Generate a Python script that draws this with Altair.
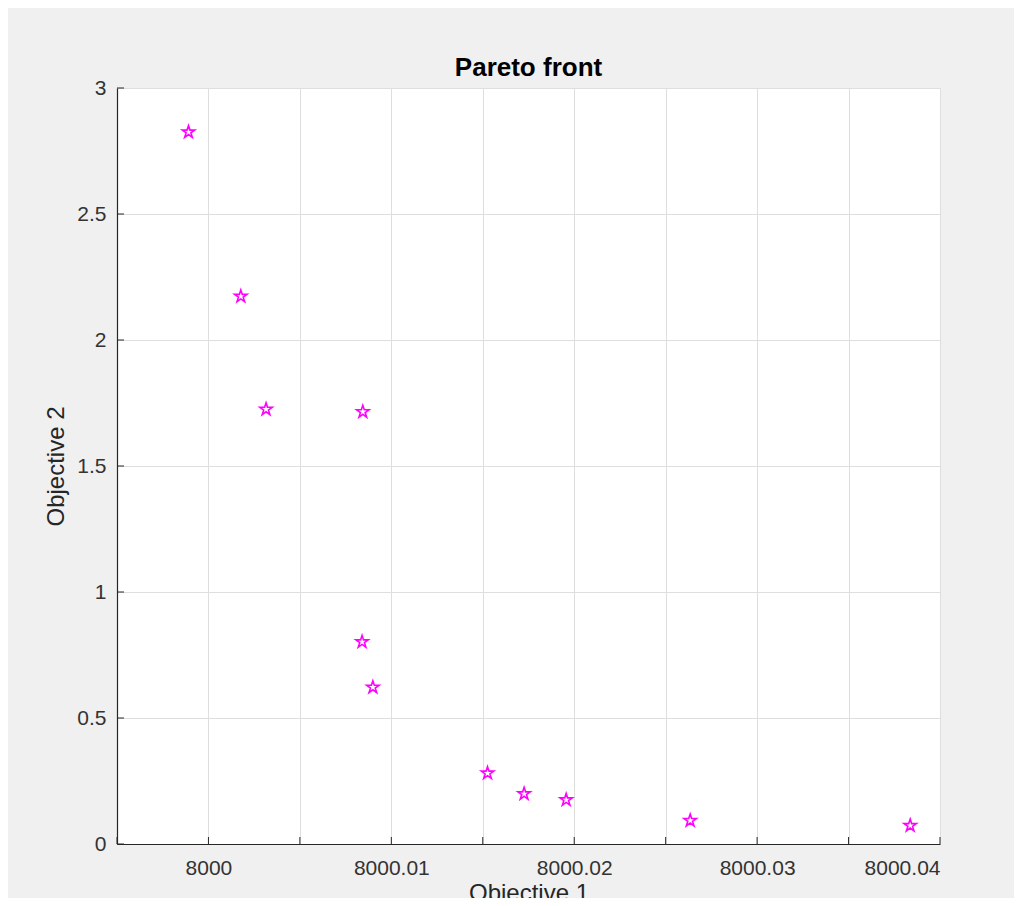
import altair as alt
import pandas as pd

# Pareto front points
obj1 = [7999.99891, 8000.00177, 8000.00315, 8000.00844, 8000.00840, 8000.00899,
        8000.01526, 8000.01726, 8000.01956, 8000.02634, 8000.03837]
obj2 = [2.825, 2.173, 1.725, 1.715, 0.802, 0.622, 0.281, 0.199, 0.175, 0.093, 0.073]

x_ticks = [7999.995, 8000.0, 8000.005, 8000.01, 8000.015, 8000.02,
           8000.025, 8000.03, 8000.035, 8000.04]
y_ticks = [0, 0.5, 1, 1.5, 2, 2.5, 3]

pts = pd.DataFrame({"x": obj1, "y": obj2})
xt = pd.DataFrame({"x": x_ticks})
yt = pd.DataFrame({"y": y_ticks})

W, H = 823, 756
AX = "#262626"
FONT = "Liberation Sans"
STAR = ("M0,-1L0.2245,-0.309L0.951,-0.309L0.363,0.118L0.588,0.809L0,0.382"
        "L-0.588,0.809L-0.363,0.118L-0.951,-0.309L-0.2245,-0.309Z")

xscale = alt.Scale(domain=[7999.995, 8000.04], nice=False, zero=False)
yscale = alt.Scale(domain=[0, 3], nice=False, zero=True)

xaxis = alt.Axis(
    values=x_ticks,
    labelExpr="abs(datum.value*100 - round(datum.value*100)) < 1e-6 ? format(datum.value, '.2~f') : ''",
    title="Objective 1",
    ticks=False, tickSize=0,
    labelPadding=13, titlePadding=3,
)
yaxis = alt.Axis(
    values=y_ticks,
    format="~g",
    title="Objective 2",
    ticks=False, tickSize=0,
    labelPadding=11, titlePadding=8,
)

points = alt.Chart(pts).mark_point(
    shape=STAR, filled=False, stroke="#ff00ff", strokeWidth=1.6, size=170, opacity=1
).encode(
    x=alt.X("x:Q", scale=xscale, axis=xaxis),
    y=alt.Y("y:Q", scale=yscale, axis=yaxis),
)

xtick_rules = alt.Chart(xt).mark_rule(color=AX, strokeWidth=1).encode(
    x=alt.X("x:Q", scale=xscale, axis=xaxis),
    y=alt.value(H),
    y2=alt.value(H - 7),
)

ytick_rules = alt.Chart(yt).mark_rule(color=AX, strokeWidth=1).encode(
    y=alt.Y("y:Q", scale=yscale, axis=yaxis),
    x=alt.value(0),
    x2=alt.value(7),
)

chart = alt.layer(xtick_rules, ytick_rules, points).properties(
    width=W,
    height=H,
    title=alt.TitleParams("Pareto front", font=FONT, fontSize=26, fontWeight="bold",
                          color="#000000", offset=0, dy=4, anchor="middle"),
    background="#f0f0f0",
    autosize=alt.AutoSizeParams(type="none"),
    padding={"left": 109, "top": 80, "right": 74, "bottom": 54},
).configure_view(
    fill="#ffffff", stroke=None
).configure_axis(
    domainColor=AX, domainWidth=1.2,
    gridColor="#dedede", gridWidth=1, gridOpacity=1,
    labelFont=FONT, labelFontSize=21, labelColor="#333333",
    titleFont=FONT, titleFontSize=24, titleColor=AX, titleFontWeight="normal",
)

chart.save("out.html", embed_options={"renderer": "svg", "actions": False})
